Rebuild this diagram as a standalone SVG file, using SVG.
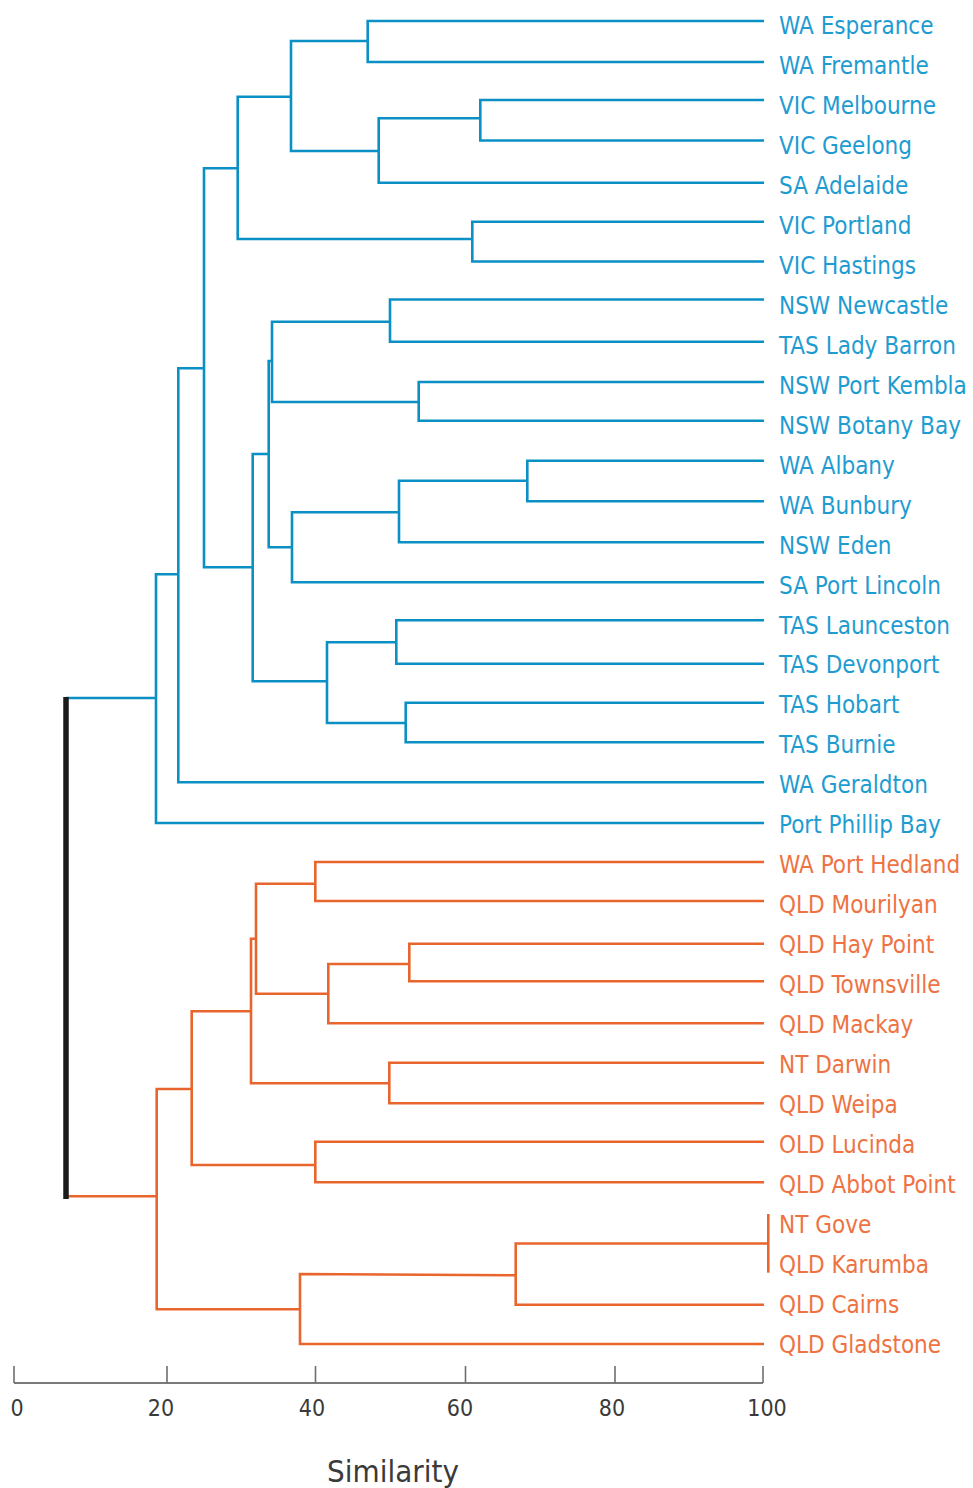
<svg xmlns="http://www.w3.org/2000/svg" width="973" height="1488" viewBox="0 0 973 1488">
<style>
.b{fill:none;stroke:#0a90c4;stroke-width:2.6;stroke-linejoin:miter;stroke-linecap:butt}
.o{fill:none;stroke:#e9652e;stroke-width:2.6;stroke-linejoin:miter;stroke-linecap:butt}
.lb,.lo{font-family:"DejaVu Sans Condensed","DejaVu Sans","Liberation Sans",sans-serif;font-stretch:condensed;font-size:24px}
.lb{fill:#1e9cd1}
.lo{fill:#ee7242}
.ax{font-family:"DejaVu Sans Condensed","DejaVu Sans","Liberation Sans",sans-serif;font-stretch:condensed;fill:#3a3a3a}
.tick{stroke:#6e6e6e;stroke-width:1.6}
</style>
<rect width="973" height="1488" fill="#ffffff"/>
<g id="connectors">
<g id="blue-branches">
<path class="b" d="M764 21 H367.7 V62 H764"/>
<path class="b" d="M764 100 H480.3 V140.5 H764"/>
<path class="b" d="M480.3 118.3 H378.7 V182.7 H764"/>
<path class="b" d="M367.7 41 H291 V151 H378.7"/>
<path class="b" d="M764 221.7 H472.3 V261.5 H764"/>
<path class="b" d="M291 96.7 H237.7 V239 H472.3"/>
<path class="b" d="M764 299.5 H390 V341.7 H764"/>
<path class="b" d="M764 382 H418.7 V420.7 H764"/>
<path class="b" d="M390 321.7 H272 V402 H418.7"/>
<path class="b" d="M764 460.7 H527.3 V501.3 H764"/>
<path class="b" d="M527.3 480.7 H399 V542.3 H764"/>
<path class="b" d="M399 512.3 H292 V582.3 H764"/>
<path class="b" d="M272 361 H268.7 V547.3 H292"/>
<path class="b" d="M764 620.3 H396.3 V663.7 H764"/>
<path class="b" d="M764 702.7 H405.7 V742.3 H764"/>
<path class="b" d="M396.3 642.3 H327 V723 H405.7"/>
<path class="b" d="M268.7 454 H252.7 V681.3 H327"/>
<path class="b" d="M237.7 168.3 H204 V567.3 H252.7"/>
<path class="b" d="M204 368.3 H178.3 V782.3 H764"/>
<path class="b" d="M178.3 574.3 H156 V823 H764"/>
<path class="b" d="M156 698 H66"/>
</g>
<g id="orange-branches">
<path class="o" d="M764 862 H315.3 V901 H764"/>
<path class="o" d="M764 943.7 H409.3 V981.3 H764"/>
<path class="o" d="M409.3 964 H328.3 V1023.3 H764"/>
<path class="o" d="M315.3 883.7 H256 V993.7 H328.3"/>
<path class="o" d="M764 1062.7 H389.3 V1103.3 H764"/>
<path class="o" d="M256 938.7 H251 V1083.3 H389.3"/>
<path class="o" d="M764 1141.7 H315.3 V1182.3 H764"/>
<path class="o" d="M251 1011.3 H191.7 V1165 H315.3"/>
<path class="o" d="M768.3 1214 V1272.7"/>
<path class="o" d="M768.3 1243.5 H515.7 V1304.8 H764"/>
<path class="o" d="M515.7 1275.3 L300 1274 V1344 H764"/>
<path class="o" d="M191.7 1089 H156.7 V1309.3 H300"/>
<path class="o" d="M156.7 1196.3 H66"/>
</g>
<path id="root" d="M66 697 V1199" fill="none" stroke="#1b1b1b" stroke-width="5.5"/>
</g>
<g id="leaves-blue">
<g id="n-wa-esperance"><text class="lb" x="779" y="34.2">WA Esperance</text></g>
<g id="n-wa-fremantle"><text class="lb" x="779" y="74.2">WA Fremantle</text></g>
<g id="n-vic-melbourne"><text class="lb" x="779" y="114.1">VIC Melbourne</text></g>
<g id="n-vic-geelong"><text class="lb" x="779" y="154.1">VIC Geelong</text></g>
<g id="n-sa-adelaide"><text class="lb" x="779" y="194">SA Adelaide</text></g>
<g id="n-vic-portland"><text class="lb" x="779" y="234">VIC Portland</text></g>
<g id="n-vic-hastings"><text class="lb" x="779" y="273.9">VIC Hastings</text></g>
<g id="n-nsw-newcastle"><text class="lb" x="779" y="313.9">NSW Newcastle</text></g>
<g id="n-tas-lady-barron"><text class="lb" x="779" y="353.8">TAS Lady Barron</text></g>
<g id="n-nsw-port-kembla"><text class="lb" x="779" y="393.8">NSW Port Kembla</text></g>
<g id="n-nsw-botany-bay"><text class="lb" x="779" y="433.7">NSW Botany Bay</text></g>
<g id="n-wa-albany"><text class="lb" x="779" y="473.7">WA Albany</text></g>
<g id="n-wa-bunbury"><text class="lb" x="779" y="513.6">WA Bunbury</text></g>
<g id="n-nsw-eden"><text class="lb" x="779" y="553.6">NSW Eden</text></g>
<g id="n-sa-port-lincoln"><text class="lb" x="779" y="593.5">SA Port Lincoln</text></g>
<g id="n-tas-launceston"><text class="lb" x="779" y="633.5">TAS Launceston</text></g>
<g id="n-tas-devonport"><text class="lb" x="779" y="673.4">TAS Devonport</text></g>
<g id="n-tas-hobart"><text class="lb" x="779" y="713.4">TAS Hobart</text></g>
<g id="n-tas-burnie"><text class="lb" x="779" y="753.3">TAS Burnie</text></g>
<g id="n-wa-geraldton"><text class="lb" x="779" y="793.3">WA Geraldton</text></g>
<g id="n-port-phillip-bay"><text class="lb" x="779" y="833.2">Port Phillip Bay</text></g>
</g>
<g id="leaves-orange">
<g id="n-wa-port-hedland"><text class="lo" x="779" y="873.2">WA Port Hedland</text></g>
<g id="n-qld-mourilyan"><text class="lo" x="779" y="913.1">QLD Mourilyan</text></g>
<g id="n-qld-hay-point"><text class="lo" x="779" y="953.1">QLD Hay Point</text></g>
<g id="n-qld-townsville"><text class="lo" x="779" y="993">QLD Townsville</text></g>
<g id="n-qld-mackay"><text class="lo" x="779" y="1033">QLD Mackay</text></g>
<g id="n-nt-darwin"><text class="lo" x="779" y="1072.9">NT Darwin</text></g>
<g id="n-qld-weipa"><text class="lo" x="779" y="1112.9">QLD Weipa</text></g>
<g id="n-qld-lucinda"><text class="lo" x="779" y="1152.8">OLD Lucinda</text></g>
<g id="n-qld-abbot-point"><text class="lo" x="779" y="1192.8">QLD Abbot Point</text></g>
<g id="n-nt-gove"><text class="lo" x="779" y="1232.7">NT Gove</text></g>
<g id="n-qld-karumba"><text class="lo" x="779" y="1272.7">QLD Karumba</text></g>
<g id="n-qld-cairns"><text class="lo" x="779" y="1312.6">QLD Cairns</text></g>
<g id="n-qld-gladstone"><text class="lo" x="779" y="1352.6">QLD Gladstone</text></g>
</g>
<g id="axis">
<path d="M14 1383 H763" stroke="#7a7a7a" stroke-width="2" fill="none"/>
<path class="tick" d="M14 1366 V1383 M167 1366 V1383 M315.5 1366 V1383 M465.5 1366 V1383 M615 1366 V1383 M763 1366 V1383"/>
<g class="ax" font-size="23" text-anchor="middle">
<text x="17" y="1416">0</text>
<text x="161" y="1416">20</text>
<text x="312" y="1416">40</text>
<text x="460" y="1416">60</text>
<text x="612" y="1416">80</text>
<text x="767" y="1416">100</text>
</g>
<text class="ax" x="393" y="1482" font-size="31" text-anchor="middle">Similarity</text>
</g>
</svg>
